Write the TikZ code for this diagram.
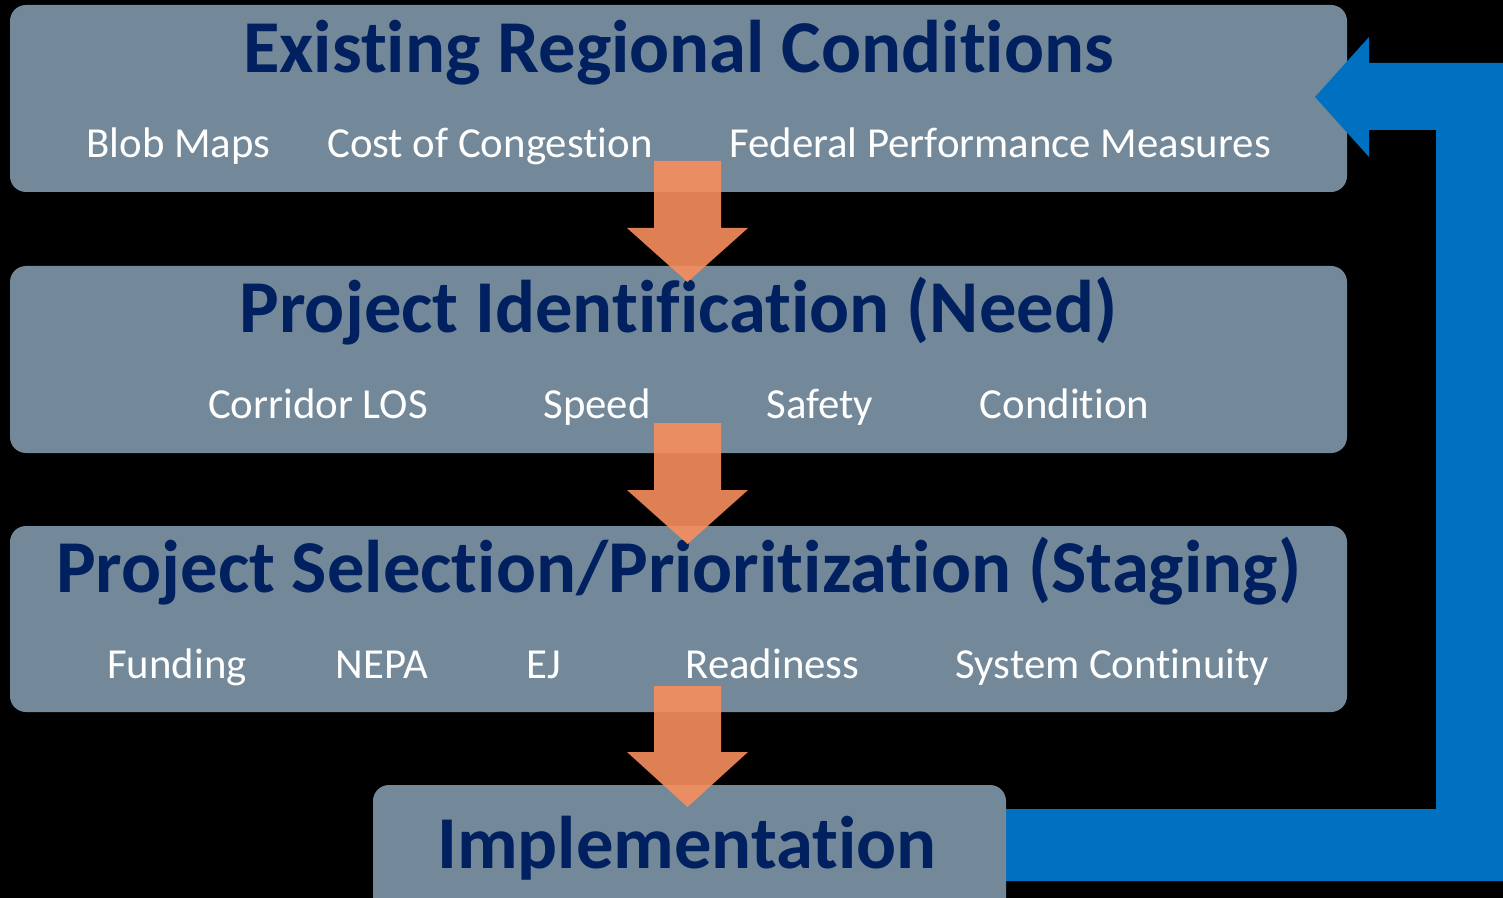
\documentclass[tikz,border=0pt]{standalone}
\usepackage{fontspec}
\setmainfont[RawFeature={-liga}]{Carlito}
\definecolor{boxgray}{RGB}{115,137,153}
\definecolor{navy}{RGB}{0,32,96}
\definecolor{arroworange}{RGB}{247,142,94}
\definecolor{fbblue}{RGB}{0,112,192}
\begin{document}
\begin{tikzpicture}[x=0.5pt,y=-0.5pt,
  stagebox/.style={fill=boxgray,draw=none,rounded corners=8pt,inner sep=0pt},
  titletext/.style={anchor=base,text=navy,font=\fontsize{37.3}{38}\selectfont\bfseries,inner sep=0pt},
  subtext/.style={anchor=base,text=white,font=\fontsize{21.4}{22}\selectfont,inner sep=0pt},
  downarrow/.style={fill=arroworange,fill opacity=0.9,draw=none},
  feedback/.style={fill=fbblue,draw=none}]
\fill[black] (0,0) rectangle (1503,898);
\useasboundingbox (0,0) rectangle (1503,898);
\clip (0,0) rectangle (1503,898);
% stage boxes
\node[stagebox,minimum width=668.5pt,minimum height=93.5pt] (b1) at (678.5,98.5) {};
\node[stagebox,minimum width=668.5pt,minimum height=93.5pt] (b2) at (678.5,359.5) {};
\node[stagebox,minimum width=668.5pt,minimum height=93pt] (b3) at (678.5,619) {};
% feedback arrow
\fill[feedback] (1000,809) -- (1436,809) -- (1436,130) -- (1369,130) -- (1369,157) -- (1315,97) -- (1369,37) -- (1369,63) -- (1503,63) -- (1503,881) -- (1000,881) -- cycle;
\node[stagebox,minimum width=316.5pt,minimum height=67.5pt] (b4) at (689.5,852.5) {};
% titles
\node[titletext] (t1) at (678.5,73) {Existing Regional Conditions};
\node[titletext] (t2) at (678.5,333) {Project Identification (Need)};
\node[titletext] (t3) at (678.5,592) {Project Selection/Prioritization (Staging)};
\node[titletext] (t4) at (687,868) {Implementation};
% sub items
\node[subtext] (s11) at (178.5,158) {Blob Maps};
\node[subtext] (s12) at (490,158) {Cost of Congestion};
\node[subtext] (s13) at (1000,158) {Federal Performance Measures};
\node[subtext] (s21) at (318,418) {Corridor LOS};
\node[subtext] (s22) at (597,418) {Speed};
\node[subtext] (s23) at (820,418) {Safety};
\node[subtext] (s24) at (1064.5,418) {Condition};
\node[subtext] (s31) at (177,678) {Funding};
\node[subtext] (s32) at (382,678) {NEPA};
\node[subtext] (s33) at (543.5,678) {EJ};
\node[subtext] (s34) at (772.5,678) {Readiness};
\node[subtext] (s35) at (1112.5,678) {System Continuity};
% down arrows
\foreach \t/\h/\p in {161/228/282, 423/490/544, 686/752/807}{
  \fill[downarrow] (654,\t) -- (721,\t) -- (721,\h) -- (748,\h) -- (687.5,\p) -- (627,\h) -- (654,\h) -- cycle;
}
\end{tikzpicture}
\end{document}
